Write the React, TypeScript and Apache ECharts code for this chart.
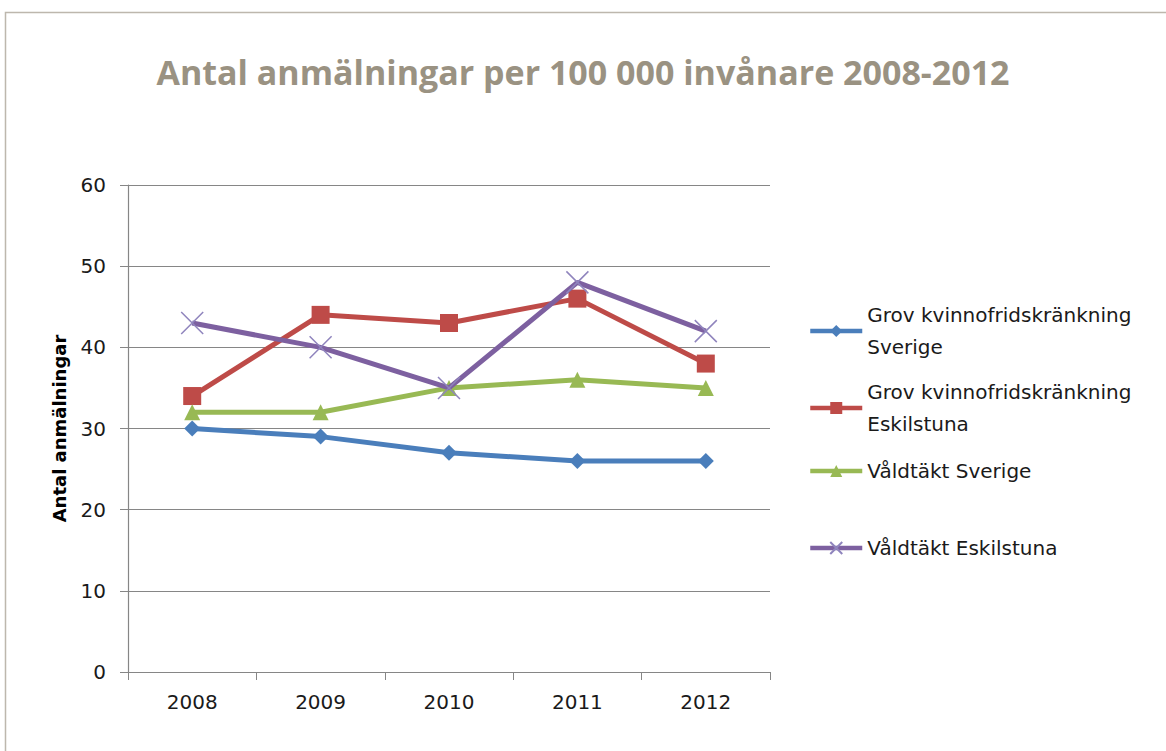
import React, { useEffect, useRef } from "react";
import * as echarts from "echarts";

const years = ["2008", "2009", "2010", "2011", "2012"];
const grovSverige = [30, 29, 27, 26, 26];
const grovEskilstuna = [34, 44, 43, 46, 38];
const valdtaktSverige = [32, 32, 35, 36, 35];
const valdtaktEskilstuna = [43, 40, 35, 48, 42];

const seriesNames = [
  "Grov kvinnofridskränkning Sverige",
  "Grov kvinnofridskränkning Eskilstuna",
  "Våldtäkt Sverige",
  "Våldtäkt Eskilstuna",
];
const legendLabels = [
  "Grov kvinnofridskränkning\nSverige",
  "Grov kvinnofridskränkning\nEskilstuna",
  "Våldtäkt Sverige",
  "Våldtäkt Eskilstuna",
];
const colors = ["#4a7ebb", "#be4b48", "#98b954", "#7d60a0"];
const titleText = "Antal anmälningar per 100 000 invånare 2008-2012";
const yAxisName = "Antal anmälningar";

const crossPath = "path://M0,0 L10,10 M10,0 L0,10";

export default function App() {
  const ref = useRef<HTMLDivElement>(null);
  useEffect(() => {
    if (!ref.current) return;
    const chart = echarts.init(ref.current, null, { renderer: "svg" });
    const L = 32;
    const legendTops = [309, 386, 464, 541];
    const symbols = ["diamond", "rect", "triangle", crossPath];
    const symbolSizes = [16, 18, 16, 22];
    const datas = [grovSverige, grovEskilstuna, valdtaktSverige, valdtaktEskilstuna];
    const legends = seriesNames.map((n, i) => {
      const twoLine = legendLabels[i].includes("\n");
      return {
        data: [n],
        left: 808,
        padding: 0,
        top: twoLine ? legendTops[i] - 7 - L / 2 - 3 : legendTops[i] - 9,
        itemWidth: 52,
        itemHeight: 15,
        itemGap: 4,
        lineStyle: { width: 4.5 },
        formatter: () => legendLabels[i],
        textStyle: {
          fontFamily: "DejaVu Sans",
          fontSize: 20,
          color: "#1a1a1a",
          lineHeight: L,
          padding: twoLine ? [L, 0, 0, 0] : 0,
        },
      };
    });
    chart.setOption({
      animation: false,
      backgroundColor: "#ffffff",
      title: {
        text: titleText,
        left: "center",
        top: 50,
        textStyle: {
          fontFamily: "Open Sans",
          fontWeight: "bold",
          fontSize: 34,
          color: "#9a9282",
        },
      },
      graphic: [
        {
          type: "rect",
          shape: { x: 5.5, y: 12.5, width: 1300, height: 900 },
          style: { fill: "none", stroke: "#bdb7ad", lineWidth: 1.5 },
          silent: true,
        },
      ],
      legend: legends,
      grid: { left: 128, right: 396, top: 185, bottom: 79 },
      xAxis: {
        type: "category",
        data: years,
        boundaryGap: true,
        axisLine: { lineStyle: { color: "#868686", width: 1.2 } },
        axisTick: { show: true, length: 8, lineStyle: { color: "#868686" } },
        axisLabel: {
          fontFamily: "DejaVu Sans",
          fontSize: 20,
          color: "#1a1a1a",
          margin: 20,
        },
      },
      yAxis: {
        type: "value",
        min: 0,
        max: 60,
        interval: 10,
        name: yAxisName,
        nameLocation: "middle",
        nameGap: 60,
        nameTextStyle: {
          fontFamily: "DejaVu Sans",
          fontWeight: "bold",
          fontSize: 18,
          color: "#000000",
        },
        axisLine: { show: true, lineStyle: { color: "#868686", width: 1.2 } },
        axisTick: { show: true, length: 8, lineStyle: { color: "#868686" } },
        axisLabel: {
          fontFamily: "DejaVu Sans",
          fontSize: 20,
          color: "#1a1a1a",
          margin: 22,
        },
        splitLine: { lineStyle: { color: "#868686", width: 1.2 } },
      },
      series: seriesNames.map((n, i) => ({
        name: n,
        type: "line",
        data: datas[i],
        symbol: symbols[i],
        symbolSize: symbolSizes[i],
        showSymbol: true,
        lineStyle: { color: colors[i], width: 5 },
        itemStyle:
          i === 3
            ? { color: "#8f84bd", borderColor: "#8f84bd", borderWidth: 1.5 }
            : { color: colors[i] },
        z: 2 + i,
      })),
    });
    return () => chart.dispose();
  }, []);
  return (
    <div
      ref={ref}
      style={{ position: "fixed", left: 0, top: 0, width: 1166, height: 751 }}
    />
  );
}
